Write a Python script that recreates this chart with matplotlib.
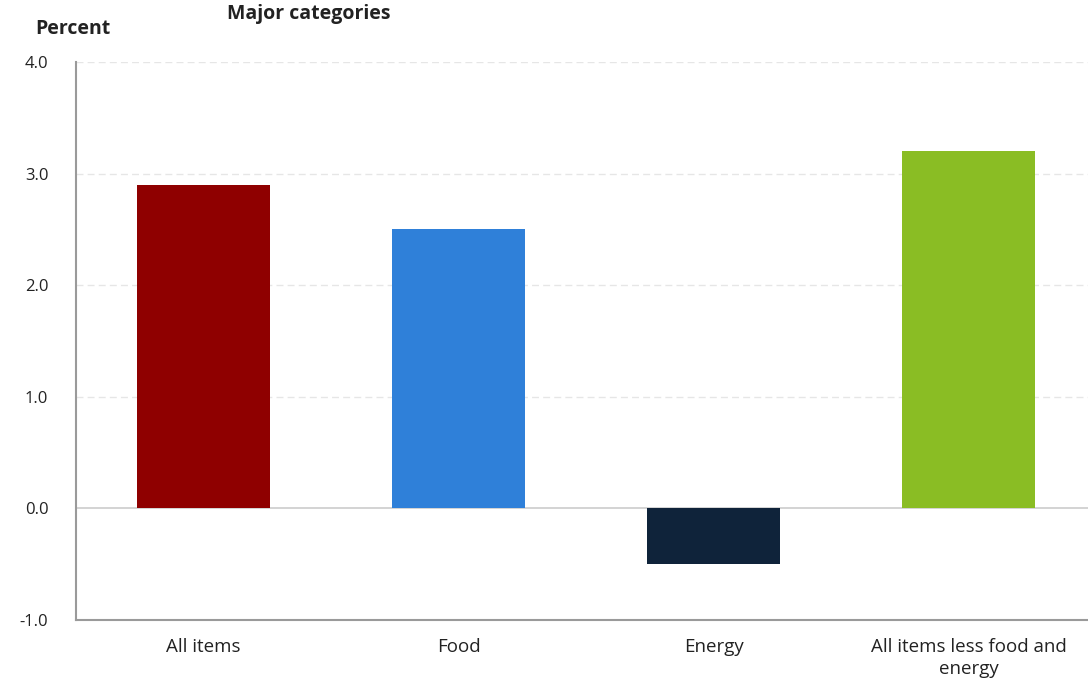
import numpy as np
import matplotlib.pyplot as plt

plt.rcParams['font.family'] = ['Open Sans', 'DejaVu Sans']

categories = ['All items', 'Food', 'Energy', 'All items less food and\nenergy']
values = [2.9, 2.5, -0.5, 3.2]
colors = ['#8f0000', '#2f80d9', '#0f233a', '#8abd24']
yticks = [-1.0, 0.0, 1.0, 2.0, 3.0, 4.0]

fig = plt.figure(figsize=(10.88, 6.81), dpi=100)
ax = fig.add_axes([0.0699, 0.0896, 0.9375, 0.8194])

x = np.arange(len(categories))
ax.bar(x, values, width=0.525, color=colors, zorder=3)

ax.set_xlim(-0.5, 3.5)
ax.set_ylim(-1.0, 4.0)
ax.set_yticks(yticks, [f'{t:.1f}' for t in yticks], fontsize=12, color='#222222')
ax.set_xticks(x, categories, fontsize=13.5, color='#222222', linespacing=1.25)
ax.tick_params(axis='y', length=0, pad=20)
ax.tick_params(axis='x', length=0, pad=13)

# dashed grid above zero, solid zero line
for t in yticks[2:]:
    ax.axhline(t, color='#e6e6e6', lw=1, ls=(0, (5, 3)), zorder=1)
ax.axhline(0, color='#cccccc', lw=1.2, zorder=2)

for s in ['top', 'right']:
    ax.spines[s].set_visible(False)
for s in ['left', 'bottom']:
    ax.spines[s].set_color('#9a9a9a')
    ax.spines[s].set_linewidth(1.5)

fig.text(0.032, 0.958, 'Percent', fontsize=14, fontweight='bold', color='#222222', va='center')
fig.text(0.209, 0.98, 'Major categories', fontsize=14, fontweight='bold', color='#222222', va='center')

fig.savefig('out.png', dpi=100)
